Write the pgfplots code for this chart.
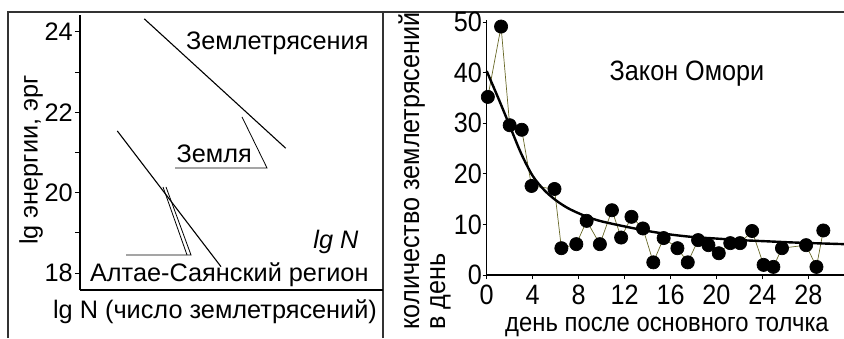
\documentclass[border=0pt]{standalone}
\usepackage{pgfplots}
\pgfplotsset{compat=1.18}
\usepackage{fontspec}
\setmainfont{Liberation Sans}
\newfontfamily\narrowfont[FakeStretch=0.9]{Liberation Sans}
\newcommand{\lf}{\fontsize{25.3bp}{30bp}\selectfont}
\newcommand{\rf}{\narrowfont\fontsize{28bp}{32bp}\selectfont}
\newcommand{\rfs}{\narrowfont\fontsize{26.5bp}{30bp}\selectfont}
\definecolor{olivethin}{RGB}{105,105,40}
\definecolor{framegray}{RGB}{50,50,50}
\begin{document}
\begin{tikzpicture}[x=1bp,y=1bp]
\useasboundingbox (0,0) rectangle (844,338);
\draw[line width=1.4bp, framegray] (8,0) -- (8,326) -- (844,326);
\draw[line width=1.4bp, framegray] (383,0) -- (383,326);

% ---------------- left panel ----------------
\begin{axis}[
  at={(80bp,48bp)}, anchor=south west, scale only axis,
  width=303bp, height=275bp,
  xmin=0, xmax=303, ymin=17.577, ymax=24.42,
  axis x line*=bottom, axis y line*=left,
  axis line style={-, line width=1.1bp, black},
  xtick=\empty, ytick={18,20,22,24}, minor ytick={19,21,23},
  tick align=outside, major tick length=5bp, minor tick length=5bp,
  tick style={line width=0.8bp, black},
  /pgf/number format/assume math mode=true,
  yticklabel style={font=\lf, inner sep=2bp},
  clip=false]
\addplot[black, line width=1.1bp] coordinates {(64.3,24.324) (205.7,21.105)};
\addplot[black, line width=1.1bp] coordinates {(37.3,21.535) (141,18.157)};
\draw[black, line width=0.8bp] (axis cs:95,20.614) -- (axis cs:187,20.614) -- (axis cs:162,21.884);
\draw[black, line width=0.8bp] (axis cs:46,18.449) -- (axis cs:111,18.449) -- (axis cs:86,20.141);
\draw[black, line width=0.8bp] (axis cs:107,18.449) -- (axis cs:83,20.141);
\node[anchor=base east, font=\lf] at (axis cs:292,23.55) {Землетрясения};
\node[anchor=base west, font=\lf] at (axis cs:93,20.74) {Земля};
\node[anchor=base east, font=\lf\itshape] at (axis cs:282,18.62) {lg N};
\node[anchor=base east, font=\lf] at (axis cs:292,17.78) {Алтае-Саянский регион};
\end{axis}
\node[rotate=90, font=\lf] at (31,178) {lg энергии, эрг};
\node[anchor=base, font=\lf] at (215,20) {lg N (число землетрясений)};

% ---------------- right panel ----------------
\begin{axis}[
  at={(486.7bp,63bp)}, anchor=south west, scale only axis,
  width=357.3bp, height=255bp,
  xmin=0, xmax=31.1, ymin=0, ymax=50.4,
  axis x line*=bottom, axis y line*=left,
  axis line style={-, line width=1.1bp, black},
  xtick={0,4,8,12,16,20,24,28}, ytick={0,10,20,30,40,50},
  tick align=outside, major tick length=4bp,
  tick style={line width=0.8bp, black},
  /pgf/number format/assume math mode=true,
  xticklabel style={font=\rf, inner sep=0bp, yshift=-6bp},
  yticklabel style={font=\rf, inner sep=0.5bp},
  clip=false]
\addplot[olivethin, line width=0.7bp, mark=*, mark size=6.6bp,
  mark options={fill=black, draw=black}] coordinates {
  (0.1,35.2) (1.25,49.1) (2.0,29.6) (3.05,28.7) (3.9,17.6) (5.9,17.0)
  (6.5,5.3) (7.8,6.1) (8.7,10.7) (9.85,6.1) (10.9,12.8) (11.7,7.4)
  (12.6,11.5) (13.6,9.2) (14.5,2.5) (15.4,7.3) (16.6,5.3) (17.5,2.5)
  (18.4,6.9) (19.3,5.9) (20.2,4.3) (21.2,6.3) (22.05,6.3) (23.1,8.7)
  (24.1,2.0) (24.95,1.6) (25.7,5.3) (27.8,5.9) (28.7,1.6) (29.3,8.8)};
\addplot[black, line width=2.4bp, smooth] coordinates {
  (0,40.3) (1,35.0) (2,29.5) (3,24.0) (4,19.6) (5,16.8) (6,14.8)
  (7,13.3) (8,12.2) (9,11.3) (10,10.6) (12,9.6) (14,8.7) (16,8.0)
  (18,7.5) (20,7.2) (22,6.9) (24,6.7) (27,6.4) (31.1,6.1)};
\node[anchor=base west, font=\rf] at (axis cs:10.4,38.5) {Закон Омори};
\end{axis}
\node[rotate=90, anchor=base west, font=\rf] at (419,5) {количество землетрясений};
\node[rotate=90, anchor=base west, font=\rf] at (445,5) {в день};
\node[anchor=base, font=\rfs, inner sep=0bp] at (667,7) {день после основного толчка};
\end{tikzpicture}
\end{document}
